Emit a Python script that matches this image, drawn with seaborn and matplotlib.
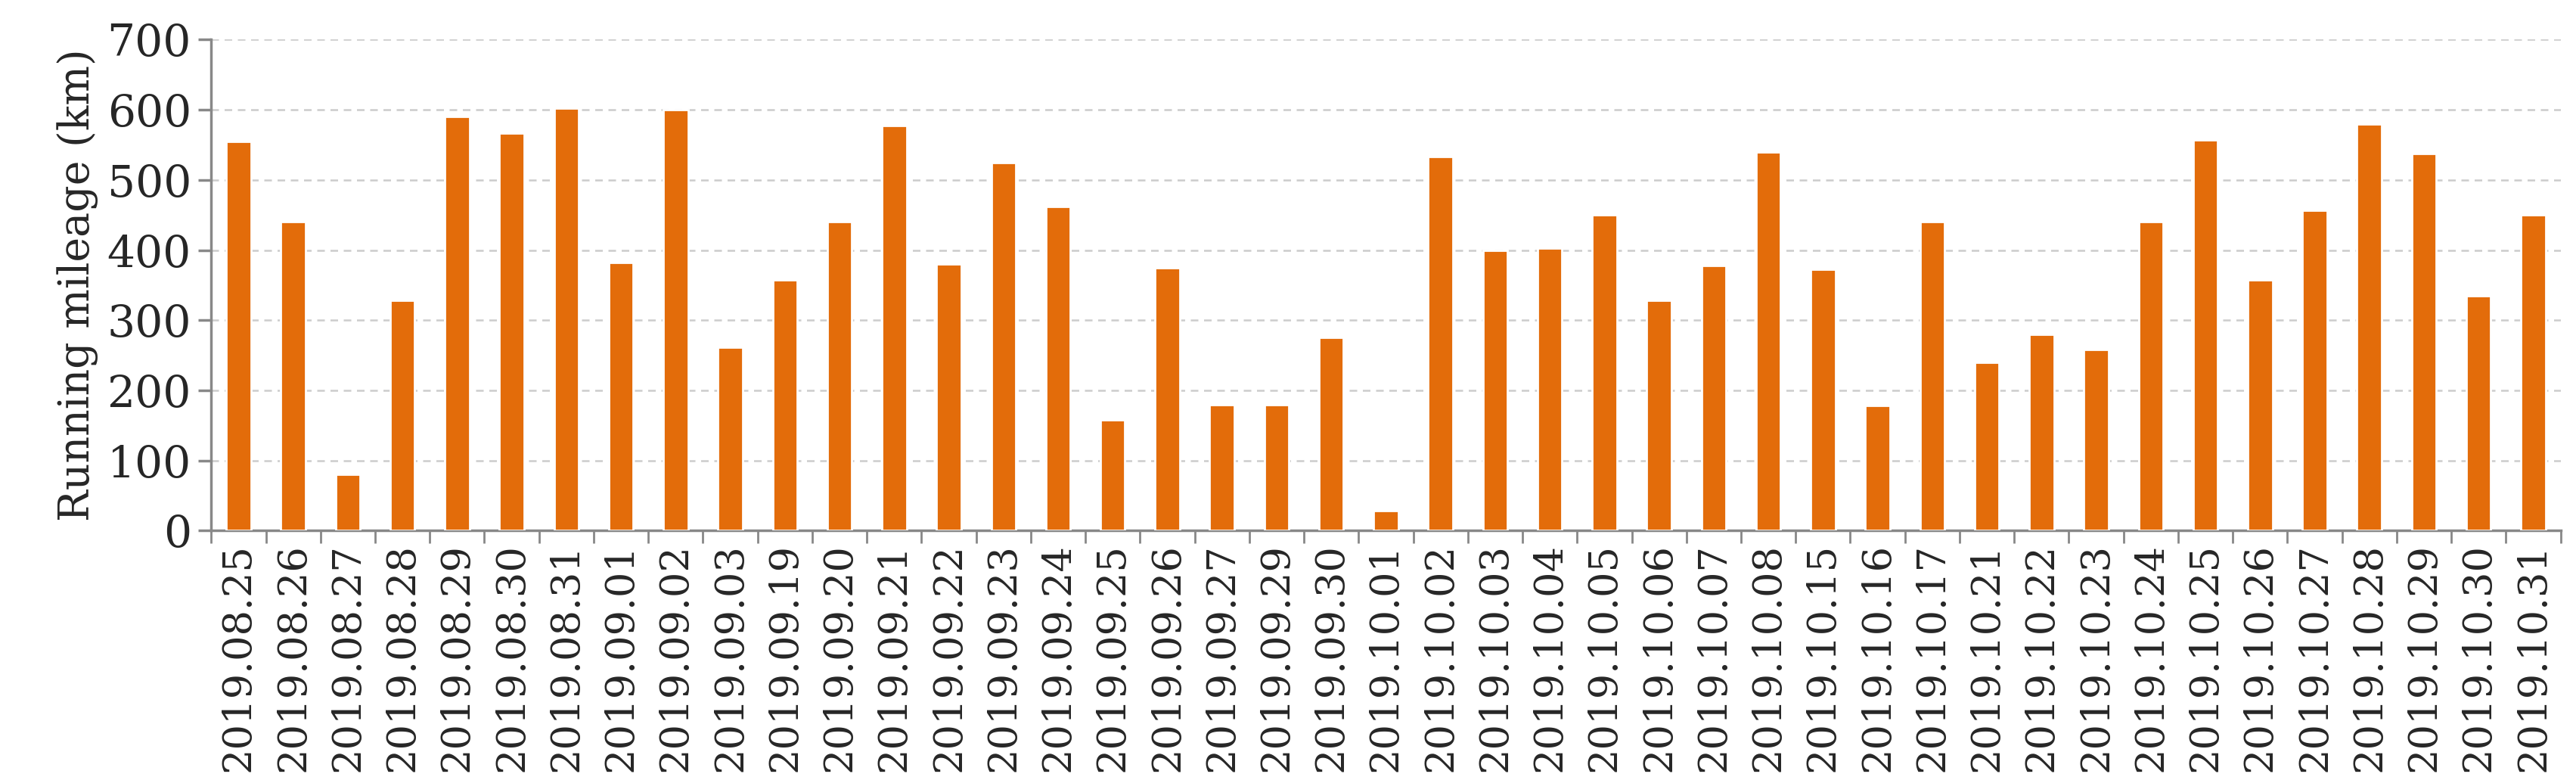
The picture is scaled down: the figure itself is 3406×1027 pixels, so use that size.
import matplotlib
matplotlib.use("Agg")
import matplotlib.pyplot as plt
import seaborn as sns
import pandas as pd
import numpy as np
from matplotlib.ticker import FixedLocator

dates = ["2019.08.25","2019.08.26","2019.08.27","2019.08.28","2019.08.29","2019.08.30","2019.08.31",
         "2019.09.01","2019.09.02","2019.09.03","2019.09.19","2019.09.20","2019.09.21","2019.09.22",
         "2019.09.23","2019.09.24","2019.09.25","2019.09.26","2019.09.27","2019.09.29","2019.09.30",
         "2019.10.01","2019.10.02","2019.10.03","2019.10.04","2019.10.05","2019.10.06","2019.10.07",
         "2019.10.08","2019.10.15","2019.10.16","2019.10.17","2019.10.21","2019.10.22","2019.10.23",
         "2019.10.24","2019.10.25","2019.10.26","2019.10.27","2019.10.28","2019.10.29","2019.10.30",
         "2019.10.31"]
mileage = [555,440,80,328,590,567,602,382,600,262,357,440,577,380,525,462,158,375,180,180,275,
           28,533,400,403,450,328,378,540,373,178,440,240,280,258,440,557,357,457,580,538,335,450]

sns.set_theme(style="white")
plt.rcParams['font.family'] = ['DejaVu Serif', 'Liberation Serif']

df = pd.DataFrame({"date": dates, "km": mileage})
fig = plt.figure(figsize=(17.03, 5.135), dpi=200)
ax = fig.add_axes([0.082, 0.317, 0.912, 0.632])
sns.barplot(data=df, x="date", y="km", color="#E36C0A", saturation=1, width=0.45, ax=ax, zorder=3)
ax.set_ylim(0, 700)
ax.set_xlim(-0.5, len(dates) - 0.5)
ax.set_yticks(range(0, 701, 100))
ax.yaxis.grid(True, linestyle=(0, (4, 3)), color="#CCCCCC", linewidth=0.9, zorder=0)
ax.set_xlabel("")
ax.set_ylabel("Running mileage (km)", fontsize=20)
ax.tick_params(axis="x", labelrotation=90, labelsize=19, length=0, pad=6)
ax.tick_params(axis="y", labelsize=21, length=6, color="#888888", left=True)
ax.xaxis.set_minor_locator(FixedLocator(np.arange(-0.5, len(dates), 1)))
ax.tick_params(axis="x", which="minor", length=6, color="#888888", bottom=True)
for s in ["top", "right"]:
    ax.spines[s].set_visible(False)
for s in ["left", "bottom"]:
    ax.spines[s].set_color("#888888")
fig.savefig("out.png", dpi=200)
